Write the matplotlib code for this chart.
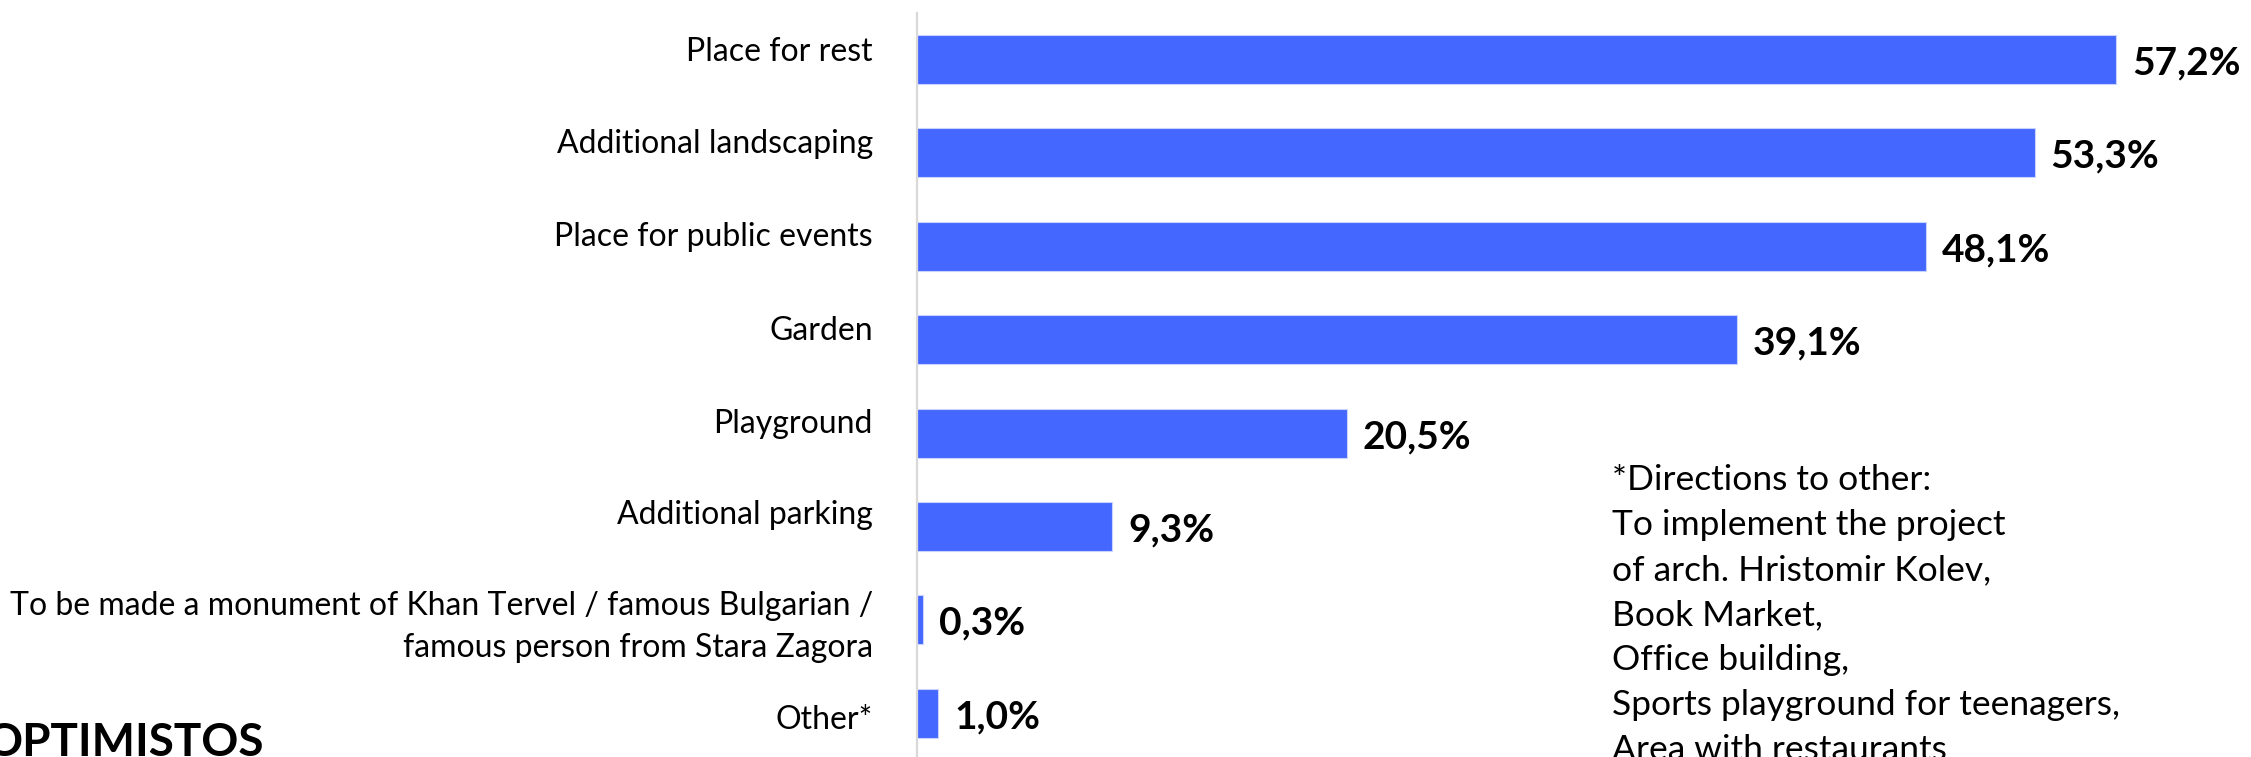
import matplotlib
matplotlib.use("Agg")
import matplotlib.pyplot as plt
import matplotlib.transforms as mtransforms

# ---------------- data ----------------
categories = [
    "Place for rest",
    "Additional landscaping",
    "Place for public events",
    "Garden",
    "Playground",
    "Additional parking",
    "To be made a monument of Khan Tervel / famous Bulgarian /\nfamous person from Stara Zagora",
    "Other*",
]
values = [57.2, 53.3, 48.1, 39.1, 20.5, 9.3, 0.3, 1.0]
value_labels = [f"{v:.1f}%".replace(".", ",") for v in values]

note_lines = [
    "*Directions to other:",
    "To implement the project",
    "of arch. Hristomir Kolev,",
    "Book Market,",
    "Office building,",
    "Sports playground for teenagers,",
    "Area with restaurants",
]
logo_text = "OPTIMISTOS"

# ---------------- layout / style ----------------
W, H, DPI = 2251, 757, 100
AX_LEFT_PX = 917
AX_TOP_PX = 13
PX_PER_UNIT = 20.97
BAR_COLOR = "#4468FF"
FONT = ["Lato", "DejaVu Sans"]
# offset (px, downwards) of the LAST line's baseline relative to the bar centre
label_dy_px = [1.5, 0, 0, 0, 0, -2, 37.5, 15.5]

fig = plt.figure(figsize=(W / DPI, H / DPI), dpi=DPI)
fig.patch.set_facecolor("white")

ax = fig.add_axes([AX_LEFT_PX / W, 0, 1 - AX_LEFT_PX / W, (H - AX_TOP_PX) / H])
pos = list(range(len(categories)))
ax.barh(pos, values, height=0.525, color=BAR_COLOR, edgecolor="#C9D3FF", linewidth=0.8)
ax.set_ylim(7.468, -0.498)
ax.set_xlim(0, (W - AX_LEFT_PX) / PX_PER_UNIT)

for s in ["top", "right", "bottom"]:
    ax.spines[s].set_visible(False)
ax.spines["left"].set_color("#D9D9D9")
ax.spines["left"].set_linewidth(1.6)
ax.set_xticks([])
ax.set_yticks([])

# category labels
for i, lab in enumerate(categories):
    tr = ax.get_yaxis_transform() + mtransforms.ScaledTranslation(
        -44 / DPI, -label_dy_px[i] / DPI, fig.dpi_scale_trans)
    ax.text(0, i, lab, transform=tr, ha="right", va="baseline",
            fontsize=23, family=FONT, color="#000000",
            linespacing=1.52, multialignment="right")

# value labels
for i, (v, lab) in enumerate(zip(values, value_labels)):
    tr = ax.transData + mtransforms.ScaledTranslation(16 / DPI, -15 / DPI, fig.dpi_scale_trans)
    ax.text(v, i, lab, transform=tr, ha="left", va="baseline",
            fontsize=28, fontweight="bold", family=FONT, color="#000000")

# note (anchored at the baseline of its last line)
fig.text(1612 / W, 1 - 760 / H, "\n".join(note_lines), ha="left", va="baseline",
         fontsize=25.5, family=FONT, color="#000000", linespacing=1.5)

# logo (cut off at the bottom edge)
fig.text(-15 / W, 1 - 722 / H, logo_text, ha="left", va="top",
         fontsize=33, fontweight="bold", family=FONT, color="#000000")

fig.savefig("out.png", dpi=DPI, facecolor="white")
